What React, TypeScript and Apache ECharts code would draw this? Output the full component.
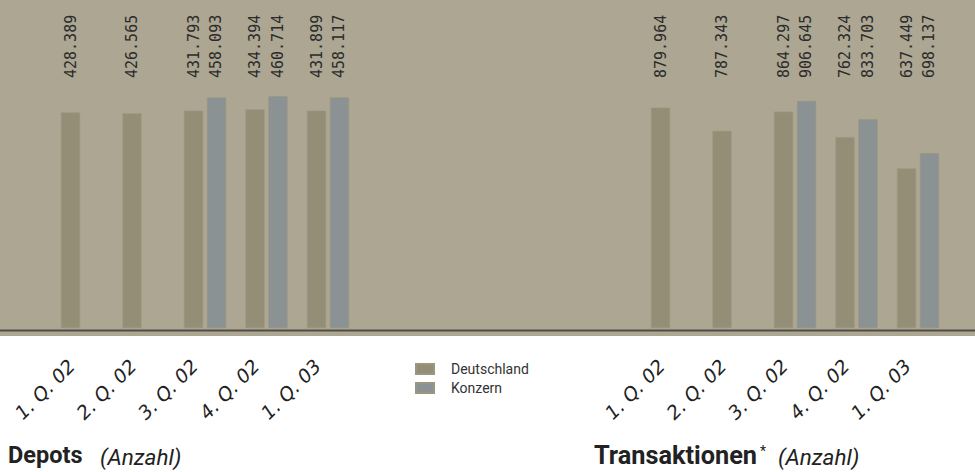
import React, { useEffect, useRef } from "react";
import * as echarts from "echarts";

const categories = ["1. Q. 02", "2. Q. 02", "3. Q. 02", "4. Q. 02", "1. Q. 03"];
const depotsDeutschland = [428389, 426565, 431793, 434394, 431899];
const depotsKonzern = [null, null, 458093, 460714, 458117];
const transDeutschland = [879964, 787343, 864297, 762324, 637449];
const transKonzern = [null, null, 906645, 833703, 698137];
const seriesNames = ["Deutschland", "Konzern"];

const colD = "#938e75";
const colK = "#8a9293";
const bg = "#aca692";

function fmt(v: number): string {
  const s = String(Math.round(v));
  return s.replace(/\B(?=(\d{3})+(?!\d))/g, ".");
}

export default function App() {
  const ref = useRef<HTMLDivElement>(null);
  useEffect(() => {
    if (!ref.current) return;
    const chart = echarts.init(ref.current, undefined, { renderer: "svg" });
    const valueLabel = {
      show: true,
      position: "top",
      rotate: 90,
      align: "left",
      verticalAlign: "middle",
      fontFamily: "DejaVu Sans Mono",
      fontSize: 15,
      color: "#2b2b2b",
      formatter: (p: any) => fmt(p.value),
    };
    const axisLabel = {
      rotate: 45,
      margin: 24,
      padding: [0, 15, 0, 0],
      fontFamily: "DejaVu Sans",
      fontStyle: "italic",
      fontSize: 19,
      color: "#222",
      interval: 0,
    };
    const mkBar = (name: string, data: any[], color: string, idx: number) => ({
      name,
      type: "bar",
      xAxisIndex: idx,
      yAxisIndex: idx,
      data,
      barWidth: 19,
      barGap: "21%",
      itemStyle: { color, borderColor: "#9b967d", borderWidth: 0.6 },
      label: valueLabel,
      labelLayout: { y: 78 },
    });
    chart.setOption({
      animation: false,
      backgroundColor: "#ffffff",
      grid: [
        { left: 51.25, width: 307.5, top: 0, height: 328 },
        { left: 641.25, width: 307.5, top: 0, height: 328 },
      ],
      xAxis: [0, 1].map((i) => ({
        type: "category",
        gridIndex: i,
        data: categories,
        axisLine: { show: false },
        axisTick: { show: false },
        axisLabel,
      })),
      yAxis: [
        { type: "value", gridIndex: 0, min: 0, max: 652000, show: false, splitLine: { show: false } },
        { type: "value", gridIndex: 1, min: 0, max: 1310000, show: false, splitLine: { show: false } },
      ],
      legend: {
        data: seriesNames,
        orient: "vertical",
        left: 415,
        top: 362,
        padding: 0,
        itemWidth: 18,
        itemHeight: 10,
        itemGap: 5,
        icon: "rect",
        textStyle: { fontFamily: "Roboto", fontSize: 14, color: "#333", padding: [0, 0, 0, 12] },
      },
      graphic: [
        { type: "rect", z: -10, shape: { x: 0, y: 0, width: 975, height: 336 }, style: { fill: bg } },
        { type: "line", z: -5, shape: { x1: 0, y1: 330.5, x2: 975, y2: 330.5 }, style: { stroke: "#4e4d46", lineWidth: 2 } },
        { type: "text", left: 8, top: 443, style: { text: "Depots", font: "bold 23.5px Roboto", fill: "#222" } },
        { type: "text", left: 100, top: 445, style: { text: "(Anzahl)", font: "italic 22.5px Roboto", fill: "#222" } },
        { type: "text", left: 594, top: 443, style: { text: "Transaktionen", font: "bold 25.3px Roboto", fill: "#222" } },
        { type: "text", left: 760, top: 444, style: { text: "*", font: "14px Roboto", fill: "#222" } },
        { type: "text", left: 778, top: 445, style: { text: "(Anzahl)", font: "italic 22.5px Roboto", fill: "#222" } },
      ],
      series: [
        mkBar(seriesNames[0], depotsDeutschland, colD, 0),
        mkBar(seriesNames[1], depotsKonzern, colK, 0),
        mkBar(seriesNames[0], transDeutschland, colD, 1),
        mkBar(seriesNames[1], transKonzern, colK, 1),
      ],
    });
    return () => chart.dispose();
  }, []);
  return (
    <div
      ref={ref}
      style={{ position: "fixed", left: 0, top: 0, width: 975, height: 472 }}
    />
  );
}
